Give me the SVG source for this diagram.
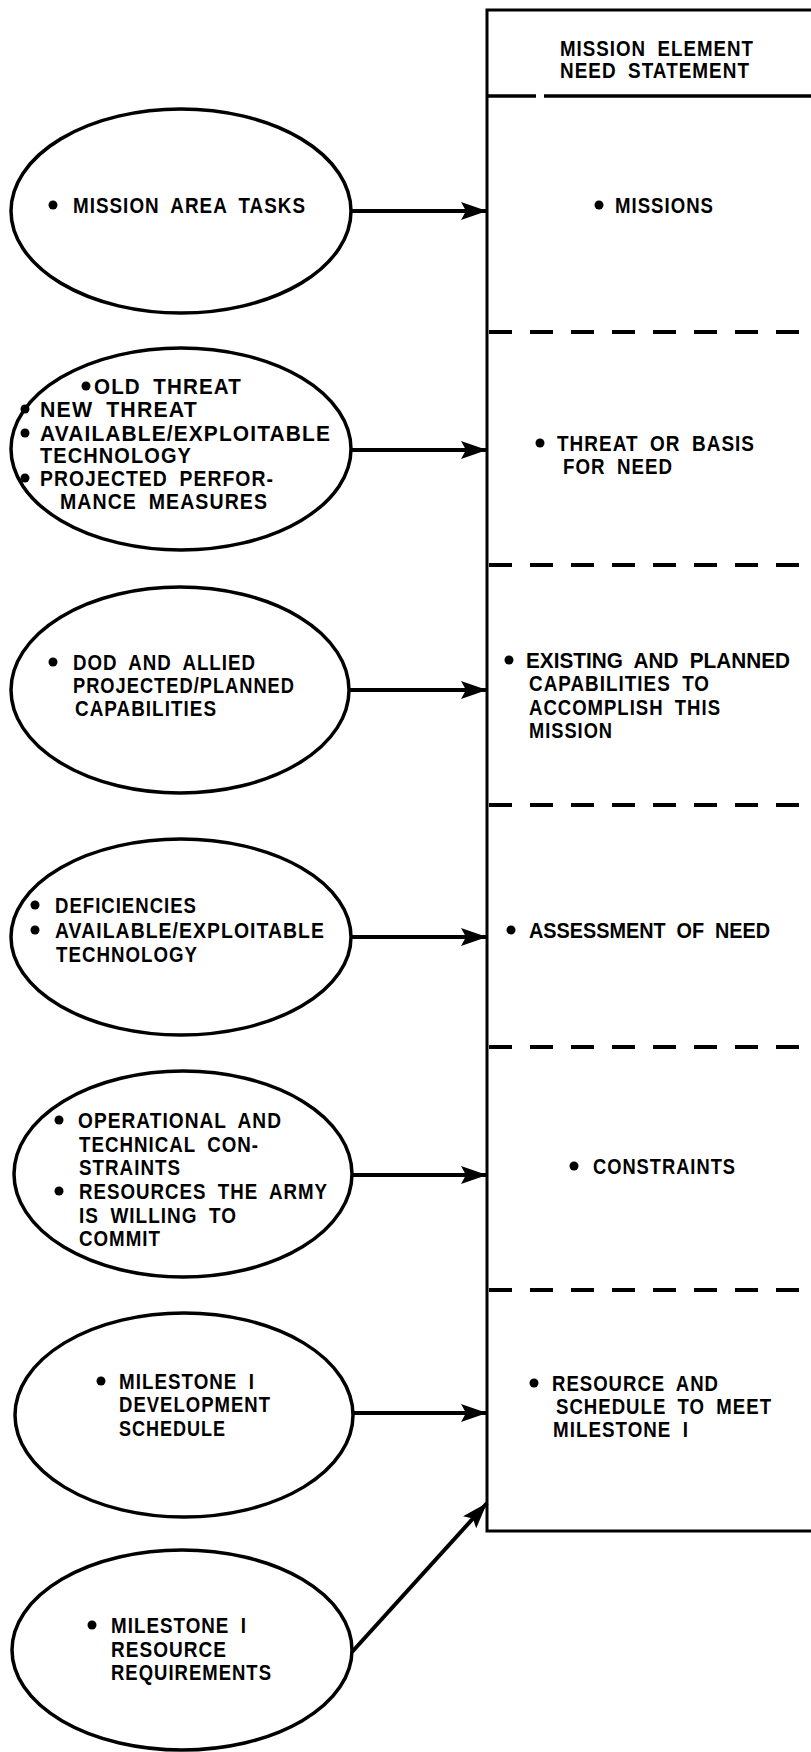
<svg xmlns="http://www.w3.org/2000/svg" width="811" height="1752" viewBox="0 0 811 1752">
  <style>
    .bg { fill: #ffffff; }
    .oval { fill: none; stroke: #000; stroke-width: 3.5; }
    .frame { fill: none; stroke: #000; stroke-width: 3; }
    .rule { stroke: #000; stroke-width: 3.5; }
    .div { stroke: #000; stroke-width: 4; stroke-dasharray: 23 18; }
    .link { fill: none; stroke: #000; stroke-width: 4; marker-end: url(#head); }
    .t { font-family: "Liberation Sans", Arial, sans-serif; font-weight: bold; font-size: 22px; fill: #000; letter-spacing: 1.2px; word-spacing: 6px; }
    .tight { letter-spacing: 0; }
    .dot { fill: #000; }
  </style>
  <defs>
    <marker id="head" markerUnits="userSpaceOnUse" markerWidth="28" markerHeight="20" refX="26" refY="9" orient="auto">
      <path d="M0,0 L26,9 L0,18 L5,9 Z" fill="#000"/>
    </marker>
  </defs>

  <rect class="bg" x="0" y="0" width="811" height="1752"/>

  <!-- need statement column -->
  <g id="statement">
    <path class="frame" d="M815,10 H487 V1531 H815"/>
    <line class="rule" x1="487" y1="96" x2="536" y2="96"/>
    <line class="rule" x1="544" y1="96" x2="811" y2="96"/>
    <line class="div" x1="489" y1="332" x2="811" y2="332"/>
    <line class="div" x1="489" y1="565" x2="811" y2="565"/>
    <line class="div" x1="489" y1="805" x2="811" y2="805"/>
    <line class="div" x1="489" y1="1047" x2="811" y2="1047"/>
    <line class="div" x1="489" y1="1290" x2="811" y2="1290"/>
    <text class="t" x="560" y="56" textLength="194" lengthAdjust="spacingAndGlyphs">MISSION ELEMENT</text>
    <text class="t" x="560" y="78" textLength="190" lengthAdjust="spacingAndGlyphs">NEED STATEMENT</text>
  </g>

  <g id="row-missions">
    <circle class="dot" cx="599" cy="205" r="4.5"/>
    <text class="t" x="615" y="213" textLength="99" lengthAdjust="spacingAndGlyphs">MISSIONS</text>
  </g>
  <g id="row-threat">
    <circle class="dot" cx="540" cy="443" r="4.5"/>
    <text class="t" x="557" y="451" textLength="198" lengthAdjust="spacingAndGlyphs">THREAT OR BASIS</text>
    <text class="t" x="563" y="474" textLength="110" lengthAdjust="spacingAndGlyphs">FOR NEED</text>
  </g>
  <g id="row-capabilities">
    <circle class="dot" cx="509" cy="660" r="4.5"/>
    <text class="t tight" x="526" y="668" textLength="264" lengthAdjust="spacingAndGlyphs">EXISTING AND PLANNED</text>
    <text class="t" x="529" y="691" textLength="181" lengthAdjust="spacingAndGlyphs">CAPABILITIES TO</text>
    <text class="t" x="529" y="715" textLength="192" lengthAdjust="spacingAndGlyphs">ACCOMPLISH THIS</text>
    <text class="t" x="529" y="738" textLength="84" lengthAdjust="spacingAndGlyphs">MISSION</text>
  </g>
  <g id="row-assessment">
    <circle class="dot" cx="511" cy="930" r="4.5"/>
    <text class="t tight" x="529" y="938" textLength="241" lengthAdjust="spacingAndGlyphs">ASSESSMENT OF NEED</text>
  </g>
  <g id="row-constraints">
    <circle class="dot" cx="574" cy="1166" r="4.5"/>
    <text class="t" x="593" y="1174" textLength="143" lengthAdjust="spacingAndGlyphs">CONSTRAINTS</text>
  </g>
  <g id="row-resource">
    <circle class="dot" cx="534" cy="1383" r="4.5"/>
    <text class="t" x="552" y="1391" textLength="167" lengthAdjust="spacingAndGlyphs">RESOURCE AND</text>
    <text class="t" x="556" y="1414" textLength="216" lengthAdjust="spacingAndGlyphs">SCHEDULE TO MEET</text>
    <text class="t" x="553" y="1437" textLength="136" lengthAdjust="spacingAndGlyphs">MILESTONE I</text>
  </g>

  <!-- input ovals -->
  <g id="in-tasks">
    <ellipse class="oval" cx="181" cy="211" rx="170" ry="102"/>
    <circle class="dot" cx="53" cy="205" r="4.5"/>
    <text class="t" x="73" y="213" textLength="233" lengthAdjust="spacingAndGlyphs">MISSION AREA TASKS</text>
  </g>
  <g id="in-threat">
    <ellipse class="oval" cx="181" cy="449" rx="170" ry="101"/>
    <circle class="dot" cx="86" cy="386" r="4.5"/>
    <text class="t" x="94" y="394" textLength="148" lengthAdjust="spacingAndGlyphs">OLD THREAT</text>
    <circle class="dot" cx="25" cy="409" r="4.5"/>
    <text class="t" x="40" y="417" textLength="158" lengthAdjust="spacingAndGlyphs">NEW THREAT</text>
    <circle class="dot" cx="25" cy="433" r="4.5"/>
    <text class="t" x="40" y="441" textLength="291" lengthAdjust="spacingAndGlyphs">AVAILABLE/EXPLOITABLE</text>
    <text class="t" x="40" y="463" textLength="152" lengthAdjust="spacingAndGlyphs">TECHNOLOGY</text>
    <circle class="dot" cx="25" cy="478" r="4.5"/>
    <text class="t" x="40" y="486" textLength="234" lengthAdjust="spacingAndGlyphs">PROJECTED PERFOR-</text>
    <text class="t" x="60" y="509" textLength="208" lengthAdjust="spacingAndGlyphs">MANCE MEASURES</text>
  </g>
  <g id="in-allied">
    <ellipse class="oval" cx="180" cy="690" rx="169" ry="103"/>
    <circle class="dot" cx="53" cy="662" r="4.5"/>
    <text class="t" x="73" y="670" textLength="183" lengthAdjust="spacingAndGlyphs">DOD AND ALLIED</text>
    <text class="t" x="73" y="693" textLength="222" lengthAdjust="spacingAndGlyphs">PROJECTED/PLANNED</text>
    <text class="t" x="75" y="716" textLength="142" lengthAdjust="spacingAndGlyphs">CAPABILITIES</text>
  </g>
  <g id="in-deficiencies">
    <ellipse class="oval" cx="181" cy="937" rx="170" ry="98"/>
    <circle class="dot" cx="35" cy="905" r="4.5"/>
    <text class="t" x="55" y="913" textLength="142" lengthAdjust="spacingAndGlyphs">DEFICIENCIES</text>
    <circle class="dot" cx="35" cy="930" r="4.5"/>
    <text class="t" x="55" y="938" textLength="270" lengthAdjust="spacingAndGlyphs">AVAILABLE/EXPLOITABLE</text>
    <text class="t" x="56" y="962" textLength="142" lengthAdjust="spacingAndGlyphs">TECHNOLOGY</text>
  </g>
  <g id="in-constraints">
    <ellipse class="oval" cx="183" cy="1174" rx="169" ry="103"/>
    <circle class="dot" cx="59" cy="1120" r="4.5"/>
    <text class="t" x="78" y="1128" textLength="204" lengthAdjust="spacingAndGlyphs">OPERATIONAL AND</text>
    <text class="t" x="79" y="1152" textLength="180" lengthAdjust="spacingAndGlyphs">TECHNICAL CON-</text>
    <text class="t" x="79" y="1175" textLength="102" lengthAdjust="spacingAndGlyphs">STRAINTS</text>
    <circle class="dot" cx="59" cy="1191" r="4.5"/>
    <text class="t" x="79" y="1199" textLength="249" lengthAdjust="spacingAndGlyphs">RESOURCES THE ARMY</text>
    <text class="t" x="79" y="1223" textLength="158" lengthAdjust="spacingAndGlyphs">IS WILLING TO</text>
    <text class="t" x="79" y="1246" textLength="82" lengthAdjust="spacingAndGlyphs">COMMIT</text>
  </g>
  <g id="in-schedule">
    <ellipse class="oval" cx="184" cy="1415" rx="169" ry="102"/>
    <circle class="dot" cx="101" cy="1381" r="4.5"/>
    <text class="t" x="119" y="1389" textLength="136" lengthAdjust="spacingAndGlyphs">MILESTONE I</text>
    <text class="t" x="119" y="1412" textLength="152" lengthAdjust="spacingAndGlyphs">DEVELOPMENT</text>
    <text class="t" x="119" y="1436" textLength="107" lengthAdjust="spacingAndGlyphs">SCHEDULE</text>
  </g>
  <g id="in-resources">
    <ellipse class="oval" cx="182" cy="1650" rx="170" ry="100"/>
    <circle class="dot" cx="92" cy="1625" r="4.5"/>
    <text class="t" x="111" y="1633" textLength="136" lengthAdjust="spacingAndGlyphs">MILESTONE I</text>
    <text class="t" x="111" y="1657" textLength="116" lengthAdjust="spacingAndGlyphs">RESOURCE</text>
    <text class="t" x="111" y="1680" textLength="161" lengthAdjust="spacingAndGlyphs">REQUIREMENTS</text>
  </g>

  <!-- connectors -->
  <g id="connectors">
    <line class="link" x1="351" y1="211" x2="487" y2="211"/>
    <line class="link" x1="351" y1="450" x2="487" y2="450"/>
    <line class="link" x1="349" y1="690" x2="487" y2="690"/>
    <line class="link" x1="351" y1="937" x2="487" y2="937"/>
    <line class="link" x1="352" y1="1175" x2="487" y2="1175"/>
    <line class="link" x1="353" y1="1413" x2="487" y2="1413"/>
    <line class="link" x1="352" y1="1652" x2="487" y2="1503"/>
  </g>
</svg>
